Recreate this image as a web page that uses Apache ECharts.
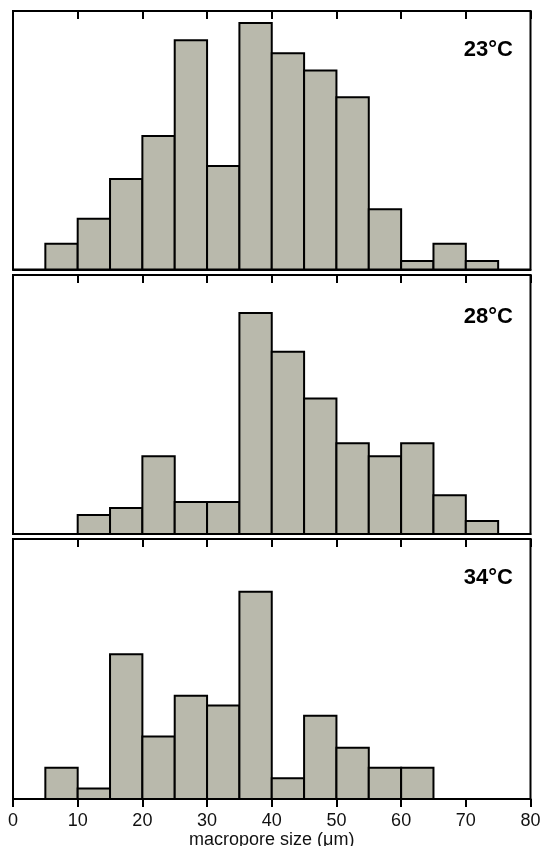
<!DOCTYPE html>
<html>
<head>
<meta charset="utf-8">
<script src="https://cdn.jsdelivr.net/npm/echarts@6/dist/echarts.min.js"></script>
<style>
html,body{margin:0;padding:0;background:#fff;}
#chart{width:541px;height:846px;}
</style>
</head>
<body>
<div id="chart"></div>
<script>
// Bin edges (um)
const binEdges = [0, 5, 10, 15, 20, 25, 30, 35, 40, 45, 50, 55, 60, 65, 70, 75, 80];
// Frequencies per bin (0-5, 5-10, ... 75-80)
const freq23 = [0, 3.0, 5.9, 10.5, 15.5, 26.6, 12.0, 28.6, 25.1, 23.1, 20.0, 7.0, 1.0, 3.0, 1.0, 0];
const freq28 = [0, 0, 2.2, 3.0, 9.0, 3.7, 3.7, 25.6, 21.1, 15.7, 10.5, 9.0, 10.5, 4.5, 1.5, 0];
const freq34 = [0, 3.6, 1.2, 16.7, 7.2, 11.9, 10.8, 23.9, 2.4, 9.6, 5.9, 3.6, 3.6, 0, 0, 0];
const panelLabels = ['23\u00B0C', '28\u00B0C', '34\u00B0C'];
const xTickLabels = ['0', '10', '20', '30', '40', '50', '60', '70', '80'];
const xTitle = 'macropore size (\u03BCm)';

const FONT = '"Liberation Sans", Arial, Helvetica, sans-serif';
const FILL = '#b9b9ac';

function toData(freq) {
  const out = [];
  for (let i = 0; i < freq.length; i++) {
    if (freq[i] > 0) out.push([binEdges[i], binEdges[i + 1], freq[i]]);
  }
  return out;
}

const grids = [
  { left: 13, right: 10.5, top: 11, height: 258.5 },
  { left: 13, right: 10.5, top: 275, height: 259 },
  { left: 13, right: 10.5, top: 539, height: 260 }
].map(g => Object.assign(g, {
  show: true, borderColor: '#000', borderWidth: 2, backgroundColor: 'transparent',
  containLabel: false, outerBoundsMode: 'none'
}));

const xAxes = [];
const yAxes = [];
const series = [];
const allFreq = [freq23, freq28, freq34];

for (let p = 0; p < 3; p++) {
  const isLast = p === 2;
  // bottom axis
  xAxes.push({
    type: 'value', gridIndex: p, position: 'bottom', min: 0, max: 80, interval: 10,
    splitLine: { show: false },
    axisLine: { show: true, onZero: false, lineStyle: { color: '#000', width: 2 } },
    axisTick: { show: isLast, inside: false, length: 8, lineStyle: { color: '#000', width: 2 } },
    axisLabel: {
      show: isLast, margin: 13, color: '#111', fontFamily: FONT, fontSize: 18,
      formatter: (v) => xTickLabels[Math.round(v / 10)]
    },
    name: isLast ? xTitle : '', nameLocation: 'middle', nameGap: 31,
    nameTextStyle: { color: '#111', fontFamily: FONT, fontSize: 18 }
  });
  // top axis (ticks only)
  xAxes.push({
    type: 'value', gridIndex: p, position: 'top', min: 0, max: 80, interval: 10,
    splitLine: { show: false },
    axisLine: { show: true, onZero: false, lineStyle: { color: '#000', width: 2 } },
    axisTick: { show: true, inside: true, length: 8, lineStyle: { color: '#000', width: 2 } },
    axisLabel: { show: false }
  });
  yAxes.push({
    type: 'value', gridIndex: p, min: 0, max: 30,
    show: false, splitLine: { show: false }
  });
  series.push({
    type: 'custom',
    xAxisIndex: p * 2, yAxisIndex: p,
    data: toData(allFreq[p]),
    encode: { x: [0, 1], y: 2 },
    renderItem: function (params, api) {
      const a = api.coord([api.value(0), api.value(2)]);
      const b = api.coord([api.value(1), 0]);
      return {
        type: 'rect',
        shape: { x: a[0], y: a[1], width: b[0] - a[0], height: b[1] - a[1] },
        style: { fill: FILL, stroke: '#000', lineWidth: 2 }
      };
    },
    z: 1
  });
}

const labelY = [50, 317, 578];
const graphics = panelLabels.map((t, i) => ({
  type: 'text', right: 28, top: labelY[i] - 11,
  style: { text: t, fill: '#000', font: 'bold 22px ' + FONT }
}));

const chart = echarts.init(document.getElementById('chart'), null, { renderer: 'canvas' });
chart.setOption({
  animation: false,
  backgroundColor: '#fff',
  grid: grids,
  xAxis: xAxes,
  yAxis: yAxes,
  series: series,
  graphic: graphics
});
</script>
</body>
</html>
